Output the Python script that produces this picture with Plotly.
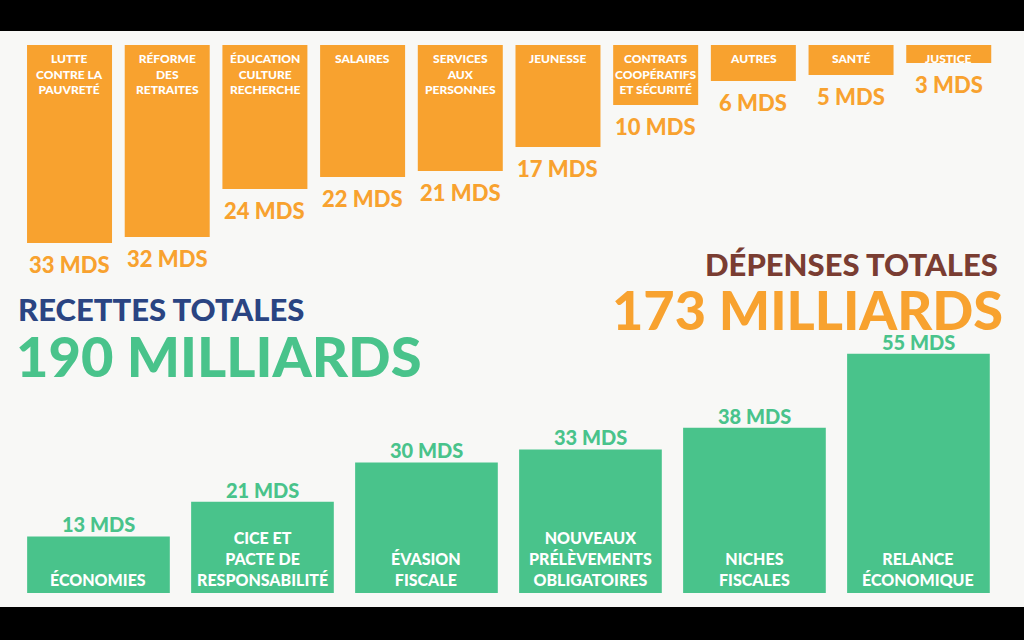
import plotly.graph_objects as go

# spending (top, orange) - billions of euros
depenses_labels = ['LUTTE<br>CONTRE LA<br>PAUVRETÉ', 'RÉFORME<br>DES<br>RETRAITES',
                   'ÉDUCATION<br>CULTURE<br>RECHERCHE', 'SALAIRES', 'SERVICES<br>AUX<br>PERSONNES',
                   'JEUNESSE', 'CONTRATS<br>COOPÉRATIFS<br>ET SÉCURITÉ', 'AUTRES', 'SANTÉ', 'JUSTICE']
depenses_values = [33, 32, 24, 22, 21, 17, 10, 6, 5, 3]

# revenue (bottom, green)
recettes_labels = ['ÉCONOMIES', 'CICE ET<br>PACTE DE<br>RESPONSABILITÉ', 'ÉVASION<br>FISCALE',
                   'NOUVEAUX<br>PRÉLÈVEMENTS<br>OBLIGATOIRES', 'NICHES<br>FISCALES',
                   'RELANCE<br>ÉCONOMIQUE']
recettes_values = [13, 21, 30, 33, 38, 55]

ORANGE = '#F8A22F'
GREEN = '#49C38B'
NAVY = '#2A4482'
BROWN = '#7A3D32'
BG = '#F8F8F6'
FONT = 'Lato'

fig = go.Figure()

fig.add_trace(go.Bar(x=depenses_labels, y=depenses_values, marker_color=ORANGE,
                     marker_line_width=0, xaxis='x', yaxis='y', hoverinfo='skip'))
fig.add_trace(go.Bar(x=recettes_labels, y=recettes_values, marker_color=GREEN,
                     marker_line_width=0, xaxis='x2', yaxis='y2', hoverinfo='skip'))

annotations = []
for lab, v in zip(depenses_labels, depenses_values):
    # category name inside the bar, at the top
    annotations.append(dict(x=lab, y=0, xref='x', yref='y', text=lab, showarrow=False,
                            yanchor='top', yshift=-4,
                            font=dict(family=FONT, size=12, color='white', weight=900)))
    # value under the bar
    annotations.append(dict(x=lab, y=v, xref='x', yref='y', text=f'{v} MDS', showarrow=False,
                            yanchor='top', yshift=-6,
                            font=dict(family=FONT, size=22, color=ORANGE, weight=900)))

for lab, v in zip(recettes_labels, recettes_values):
    annotations.append(dict(x=lab, y=0, xref='x2', yref='y2', text=lab, showarrow=False,
                            yanchor='bottom', yshift=2,
                            font=dict(family=FONT, size=16, color='white', weight=900)))
    annotations.append(dict(x=lab, y=v, xref='x2', yref='y2', text=f'{v} MDS', showarrow=False,
                            yanchor='bottom', yshift=-2,
                            font=dict(family=FONT, size=20, color=GREEN, weight=900)))

# headline totals
annotations += [
    dict(x=0.016, y=0.517, xref='paper', yref='paper', text='RECETTES TOTALES',
         xanchor='left', yanchor='middle', showarrow=False,
         font=dict(family=FONT, size=31, color=NAVY, weight=900)),
    dict(x=0.014, y=0.445, xref='paper', yref='paper', text=f'{sum(recettes_values)} MILLIARDS',
         xanchor='left', yanchor='middle', showarrow=False,
         font=dict(family=FONT, size=56, color=GREEN, weight=900)),
    dict(x=0.977, y=0.5875, xref='paper', yref='paper', text='DÉPENSES TOTALES',
         xanchor='right', yanchor='middle', showarrow=False,
         font=dict(family=FONT, size=31, color=BROWN, weight=900)),
    dict(x=0.981, y=0.516, xref='paper', yref='paper', text='173 MILLIARDS',
         xanchor='right', yanchor='middle', showarrow=False,
         font=dict(family=FONT, size=54, color=ORANGE, weight=900)),
]

hidden = dict(showgrid=False, zeroline=False, showticklabels=False, showline=False,
              ticks='', fixedrange=True)

fig.update_layout(
    width=1024, height=640,
    margin=dict(l=0, r=0, t=0, b=0),
    paper_bgcolor=BG, plot_bgcolor='rgba(0,0,0,0)',
    showlegend=False,
    bargap=0.13,
    xaxis=dict(domain=[0.0202, 0.9742], anchor='y', **hidden),
    yaxis=dict(domain=[0.6109, 0.9297], range=[34, 0], anchor='x', **hidden),
    xaxis2=dict(domain=[0.0161, 0.977], anchor='y2', **hidden),
    yaxis2=dict(domain=[0.0734, 0.4813], range=[0, 60], anchor='x2', **hidden),
    annotations=annotations,
    shapes=[
        dict(type='rect', xref='paper', yref='paper', x0=0, x1=1, y0=0.9516, y1=1,
             fillcolor='black', line_width=0, layer='above'),
        dict(type='rect', xref='paper', yref='paper', x0=0, x1=1, y0=0, y1=0.0516,
             fillcolor='black', line_width=0, layer='above'),
    ],
)

# drop the browser's default body margin so the figure fills the window
fig.write_html('out.html', config={'displayModeBar': False},
               post_script="document.body.style.margin='0';")
